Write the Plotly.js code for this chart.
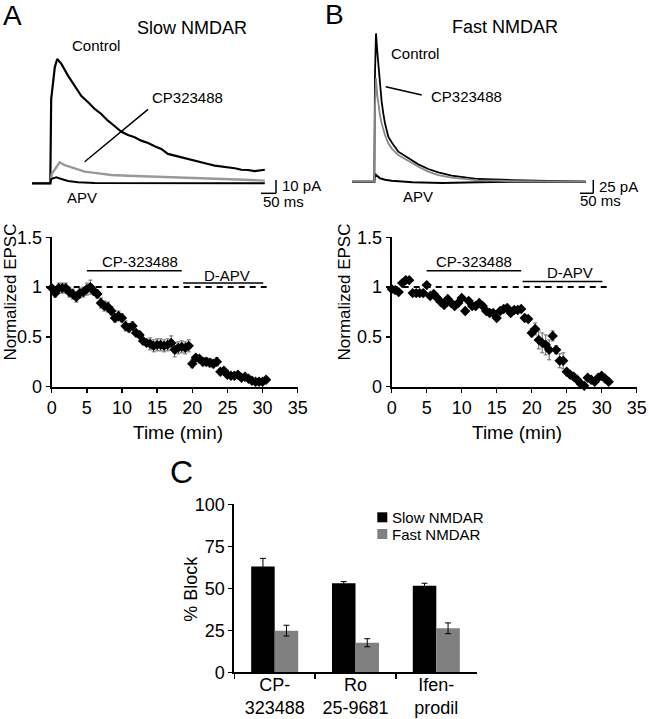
<!DOCTYPE html>
<html>
<head>
<meta charset="utf-8">
<script src="https://cdn.plot.ly/plotly-3.0.1.min.js"></script>
<style>html,body{margin:0;padding:0;background:#fff;}#chart{width:649px;height:719px;}</style>
</head>
<body>
<div id="chart"></div>
<script>
// ---------- Panel A traces (Slow NMDAR), time in ms, current in pA ----------
const ctrlA_t  = [0,61,64,70,76,84,98,120,142,164,187,209,231,253,276,298,320,342,364,387,409,431,453,476,498,520,542,564,587,609,631,653,676,698,720,742,764,776];
const ctrlA_pA = [0,0,63.2,77.0,87.0,93.3,89.6,80.8,73.2,65.7,60.8,55.8,52.0,47.0,42.8,38.7,36.2,34.5,32.0,30.3,27.8,25.8,22.1,20.7,19.5,18.2,17.0,15.8,14.5,13.3,12.7,12.0,11.3,10.2,10.0,9.2,9.8,10.2];
const cpA_t    = [0,61,66,92,109,131,153,176,209,264,320,376,431,487,542,598,653,709,776];
const cpA_pA   = [0,0,7.0,15.8,13.7,12.0,10.2,8.8,7.8,6.3,5.7,5.3,4.7,4.5,4.3,3.7,3.3,2.7,2.0];
const apvA_t   = [0,61,64,81,98,120,153,209,776];
const apvA_pA  = [0,0,3.3,4.5,3.3,1.8,0.8,0.2,0];

// ---------- Panel B traces (Fast NMDAR) ----------
const ctrlB_t  = [0,82.5,85,88.8,93.7,97.5,103.7,110,116.2,122.5,135,147.5,172.5,197.5,222.5,247.5,285,322.5,372.5,422.5,472.5,597.5,722.5,875];
const ctrlB_pA = [0,0,200,278,243.8,218.8,181.3,150,128.1,109.4,84.4,73.8,56.3,48.1,40.6,32.5,23.8,17.5,11.3,7.5,5,3.1,1.9,0];
const cpB_t    = [0,82.5,85,88.8,93.7,97.5,103.7,110,116.2,122.5,135,147.5,172.5,197.5,222.5,247.5,285,322.5,372.5,422.5,472.5,597.5,875];
const cpB_pA   = [0,0,137.5,193.8,162.5,146.9,125,109.4,96.9,87.5,71.9,62.5,50,42.5,34.4,28.1,18.8,12.5,7.5,4.4,2.5,1.2,0];
const apvB_t   = [0,82.5,85,91.2,103.7,122.5,147.5,225,337.5,472.5,597.5,875];
const apvB_pA  = [0,0,14.4,11.3,6.3,3.7,1.9,-1.2,-2.5,-1.2,0,0];

// ---------- Time courses ----------
const timeA = [0,0.5,1,1.5,2,2.5,3,3.5,4,4.5,5,5.5,6,6.5,7,7.5,8,8.5,9,9.5,10,10.5,11,11.5,12,12.5,13,13.5,14,14.5,15,15.5,16,16.5,17,17.5,18,18.5,19,19.5,20,20.5,21,21.5,22,22.5,23,23.5,24,24.5,25,25.5,26,26.5,27,27.5,28,28.5,29,29.5,30,30.5];
const normA = [0.99,0.94,0.99,0.99,0.99,0.95,0.93,0.90,0.94,0.95,0.98,1.00,0.96,0.93,0.84,0.81,0.80,0.76,0.69,0.71,0.69,0.61,0.59,0.61,0.54,0.52,0.46,0.44,0.43,0.41,0.42,0.42,0.41,0.42,0.44,0.37,0.39,0.40,0.39,0.41,0.23,0.29,0.28,0.25,0.25,0.24,0.23,0.25,0.15,0.16,0.12,0.11,0.11,0.12,0.09,0.10,0.08,0.06,0.05,0.05,0.05,0.07];
const errA  = [0.03,0.04,0.05,0.05,0.05,0.05,0.05,0.05,0.05,0.05,0.06,0.07,0.04,0.04,0.05,0.05,0.05,0.04,0.04,0.05,0.04,0.05,0.04,0.04,0.03,0.03,0.03,0.03,0.06,0.06,0.06,0.06,0.06,0.06,0.07,0.07,0.06,0.06,0.06,0.06,0.04,0.03,0.03,0.04,0.04,0.04,0.04,0.04,0.03,0.03,0.02,0.02,0.02,0.02,0.02,0.02,0.02,0.02,0.02,0.02,0.02,0.02];

const timeB = [0,0.5,1,1.5,2,2.5,3,3.5,4,4.5,5,5.5,6,6.5,7,7.5,8,8.5,9,9.5,10,10.5,11,11.5,12,12.5,13,13.5,14,14.5,15,15.5,16,16.5,17,17.5,18,18.5,19,19.5,20,20.5,21,21.5,22,22.5,23,23.5,24,24.5,25,25.5,26,26.5,27,27.5,28,28.5,29,29.5,30,30.5,31];
const normB = [0.98,0.97,0.95,1.04,1.07,1.07,0.94,0.94,0.94,0.94,1.02,0.91,0.93,0.89,0.85,0.82,0.88,0.84,0.81,0.84,0.89,0.76,0.86,0.81,0.81,0.84,0.81,0.76,0.74,0.74,0.69,0.76,0.78,0.79,0.74,0.77,0.77,0.78,0.69,0.68,0.54,0.58,0.47,0.44,0.42,0.37,0.51,0.37,0.26,0.26,0.15,0.12,0.10,0.07,0.03,0.01,0.09,0.07,0.05,0.09,0.11,0.08,0.05];
const errB  = [0.02,0.03,0.02,0.02,0.02,0.02,0.02,0.02,0.02,0.02,0.02,0.02,0.02,0.02,0.02,0.02,0.02,0.02,0.02,0.02,0.02,0.03,0.02,0.03,0.03,0.02,0.02,0.02,0.03,0.02,0.02,0.02,0.02,0.03,0.03,0.02,0.02,0.02,0.02,0.02,0.04,0.06,0.09,0.10,0.10,0.10,0.05,0.04,0.07,0.08,0.02,0.02,0.02,0.02,0.02,0.02,0.02,0.02,0.02,0.02,0.02,0.02,0.02];

// drug application periods (min)
const drugNames = ['CP-323488','D-APV'];
const drugStartA = [5, 18.7], drugEndA = [18.5, 30.1];
const drugStartB = [5, 18.7], drugEndB = [18.5, 30.1];

// ---------- Panel C ----------
const drugs    = ['CP-<br>323488','Ro<br>25-9681','Ifen-<br>prodil'];
const slowBlock = [63, 53, 51.5];
const slowErr   = [4.8, 1.0, 1.5];
const fastBlock = [24.8, 17.6, 26.2];
const fastErr   = [3.2, 2.4, 3.2];

const FONT = 'Liberation Sans, Arial, Helvetica, sans-serif';
const W = 649, H = 719;
const px = v => v / W;
const py = v => 1 - v / H;

const traces = [
  {x: ctrlA_t, y: ctrlA_pA, xaxis:'x4', yaxis:'y4', mode:'lines', line:{color:'#000', width:2.2}, hoverinfo:'skip', showlegend:false},
  {x: cpA_t, y: cpA_pA, xaxis:'x4', yaxis:'y4', mode:'lines', line:{color:'#999', width:2.4}, hoverinfo:'skip', showlegend:false},
  {x: apvA_t, y: apvA_pA, xaxis:'x4', yaxis:'y4', mode:'lines', line:{color:'#000', width:2}, hoverinfo:'skip', showlegend:false},
  {x: ctrlB_t, y: ctrlB_pA, xaxis:'x5', yaxis:'y5', mode:'lines', line:{color:'#000', width:1.8}, hoverinfo:'skip', showlegend:false},
  {x: apvB_t, y: apvB_pA, xaxis:'x5', yaxis:'y5', mode:'lines', line:{color:'#000', width:2}, hoverinfo:'skip', showlegend:false},
  {x: cpB_t, y: cpB_pA, xaxis:'x5', yaxis:'y5', mode:'lines', line:{color:'#888', width:1.8}, hoverinfo:'skip', showlegend:false},
  {x: timeA, y: normA, xaxis:'x', yaxis:'y', mode:'markers', cliponaxis:false,
   marker:{symbol:'diamond', size:8, color:'#000'},
   error_y:{type:'data', array:errA, visible:true, color:'#666', thickness:1, width:2}, showlegend:false},
  {x: timeB, y: normB, xaxis:'x2', yaxis:'y2', mode:'markers', cliponaxis:false,
   marker:{symbol:'diamond', size:8, color:'#000'},
   error_y:{type:'data', array:errB, visible:true, color:'#666', thickness:1, width:2}, showlegend:false},
  {type:'bar', x: drugs, y: slowBlock, xaxis:'x3', yaxis:'y3', name:'Slow NMDAR', marker:{color:'#000'},
   error_y:{type:'data', array:slowErr, visible:true, color:'#000', thickness:1, width:3}, showlegend:false},
  {type:'bar', x: drugs, y: fastBlock, xaxis:'x3', yaxis:'y3', name:'Fast NMDAR', marker:{color:'#808080'},
   error_y:{type:'data', array:fastErr, visible:true, color:'#000', thickness:1, width:3}, showlegend:false}
];

const axLine = {showline:true, linecolor:'#000', linewidth:2, ticks:'outside', ticklen:4, tickwidth:1.5, tickcolor:'#000',
  showgrid:false, zeroline:false, tickfont:{family:FONT, size:18, color:'#000'}, fixedrange:true};

const layout = {
  width: W, height: H, margin:{l:0, r:0, t:0, b:0}, paper_bgcolor:'#fff', plot_bgcolor:'rgba(0,0,0,0)',
  font:{family:FONT, color:'#000'}, showlegend:false, barmode:'group', bargap:0.418, bargroupgap:0,
  xaxis: Object.assign({}, axLine, {domain:[px(51.7), px(297.7)], range:[0,35], tickvals:[0,5,10,15,20,25,30,35], anchor:'y'}),
  yaxis: Object.assign({}, axLine, {domain:[py(386.7), py(237.3)], range:[0,1.5], tickvals:[0,0.5,1,1.5], ticktext:['0','0.5','1','1.5'], anchor:'x'}),
  xaxis2: Object.assign({}, axLine, {domain:[px(391.7), px(636.7)], range:[0,35], tickvals:[0,5,10,15,20,25,30,35], anchor:'y2'}),
  yaxis2: Object.assign({}, axLine, {domain:[py(386.7), py(237.3)], range:[0,1.5], tickvals:[0,0.5,1,1.5], ticktext:['0','0.5','1','1.5'], anchor:'x2'}),
  xaxis3: Object.assign({}, axLine, {domain:[px(234.3), px(476.7)], type:'category', tickson:'boundaries', anchor:'y3', ticklen:5, ticklabelstandoff:-5}),
  yaxis3: Object.assign({}, axLine, {domain:[py(672.3), py(504.3)], range:[0,100], tickvals:[0,25,50,75,100], anchor:'x3'}),
  xaxis4: {domain:[px(28), px(300)], range:[-13.3, 893.3], visible:false, anchor:'y4', fixedrange:true},
  yaxis4: {domain:[py(210), py(40)], range:[-20, 107.5], visible:false, anchor:'x4', fixedrange:true},
  xaxis5: {domain:[px(345), px(612)], range:[-27.4, 973.9], visible:false, anchor:'y5', fixedrange:true},
  yaxis5: {domain:[py(210), py(25)], range:[-53.1, 293.8], visible:false, anchor:'x5', fixedrange:true},
  shapes: [],
  annotations: []
};

const S = layout.shapes, A = layout.annotations;
function ann(o){ A.push(Object.assign({showarrow:false, font:{family:FONT, size:15, color:'#000'}, xanchor:'center', yanchor:'middle'}, o)); }

ann({xref:'paper', yref:'paper', x:px(12), y:py(16), text:'A', font:{family:FONT, size:28, color:'#000'}});
ann({xref:'paper', yref:'paper', x:px(334), y:py(15), text:'B', font:{family:FONT, size:28, color:'#000'}});
ann({xref:'paper', yref:'paper', x:px(181), y:py(472), text:'C', font:{family:FONT, size:32, color:'#000'}});
ann({xref:'paper', yref:'paper', x:px(191.7), y:py(28.3), text:'Slow NMDAR', font:{family:FONT, size:18, color:'#000'}});
ann({xref:'paper', yref:'paper', x:px(505), y:py(26.7), text:'Fast NMDAR', font:{family:FONT, size:18, color:'#000'}});

// Trace labels A
ann({xref:'x4', yref:'y4', x:213, y:103.7, text:'Control'});
ann({xref:'x4', yref:'y4', x:516.7, y:64.7, text:'CP323488'});
ann({xref:'x4', yref:'y4', x:166.7, y:-10.3, text:'APV'});
ann({xref:'x4', yref:'y4', x:826.7, y:-2, text:'10 pA', xanchor:'left'});
ann({xref:'x4', yref:'y4', x:763.3, y:-13.3, text:'50 ms', xanchor:'left'});
S.push({type:'line', xref:'x4', yref:'y4', x0:175.7, y0:16.2, x1:386.7, y1:55.5, line:{color:'#000', width:1.5}});
S.push({type:'line', xref:'x4', yref:'y4', x0:813.3, y0:-7.5, x1:813.3, y1:2.5, line:{color:'#000', width:1.5}});
S.push({type:'line', xref:'x4', yref:'y4', x0:763.3, y0:-7.5, x1:813.3, y1:-7.5, line:{color:'#000', width:1.5}});

// Trace labels B
ann({xref:'x5', yref:'y5', x:233.3, y:240.8, text:'Control'});
ann({xref:'x5', yref:'y5', x:429, y:159.4, text:'CP323488'});
ann({xref:'x5', yref:'y5', x:246.4, y:-28.7, text:'APV'});
ann({xref:'x5', yref:'y5', x:917.6, y:-8.1, text:'25 pA', xanchor:'left'});
ann({xref:'x5', yref:'y5', x:846.4, y:-36.2, text:'50 ms', xanchor:'left'});
S.push({type:'line', xref:'x5', yref:'y5', x0:125.3, y0:178.1, x1:260.3, y1:162.6, line:{color:'#000', width:1.5}});
S.push({type:'line', xref:'x5', yref:'y5', x0:903.75, y0:-21.75, x1:903.75, y1:3.25, line:{color:'#000', width:1.5}});
S.push({type:'line', xref:'x5', yref:'y5', x0:853.75, y0:-21.75, x1:903.75, y1:-21.75, line:{color:'#000', width:1.5}});

[['x','y',drugStartA,drugEndA,[1.165,1.04],[12.6,24.9],[1.255,1.12],31],
 ['x2','y2',drugStartB,drugEndB,[1.165,1.055],[11.7,25.5],[1.255,1.145],31.3]].forEach(p => {
  const [xr, yr, st, en, lvl, lx, ly, dashEnd] = p;
  S.push({type:'line', xref:xr, yref:yr, x0:0, x1:dashEnd, y0:1, y1:1, line:{color:'#000', width:2, dash:'6px,5px'}});
  for (let i = 0; i < 2; i++) {
    S.push({type:'line', xref:xr, yref:yr, x0:st[i], x1:en[i], y0:lvl[i], y1:lvl[i], line:{color:'#000', width:1.5}});
    ann({xref:xr, yref:yr, x:lx[i], y:ly[i], text:drugNames[i]});
  }
});
ann({xref:'paper', yref:'paper', x:px(9.5), y:py(292), text:'Normalized EPSC', textangle:-90, font:{family:FONT, size:17, color:'#000'}});
ann({xref:'paper', yref:'paper', x:px(343.5), y:py(292), text:'Normalized EPSC', textangle:-90, font:{family:FONT, size:17, color:'#000'}});
ann({xref:'paper', yref:'paper', x:px(177.5), y:py(432), text:'Time (min)', font:{family:FONT, size:19, color:'#000'}});
ann({xref:'paper', yref:'paper', x:px(517), y:py(432), text:'Time (min)', font:{family:FONT, size:19, color:'#000'}});
ann({xref:'paper', yref:'paper', x:px(190.7), y:py(589), text:'% Block', textangle:-90, font:{family:FONT, size:18, color:'#000'}});

S.push({type:'rect', xref:'paper', yref:'paper', x0:px(377.3), x1:px(387.3), y0:py(522.3), y1:py(512.3), fillcolor:'#000', line:{width:0}});
S.push({type:'rect', xref:'paper', yref:'paper', x0:px(377.3), x1:px(387.3), y0:py(539), y1:py(529), fillcolor:'#808080', line:{width:0}});
ann({xref:'paper', yref:'paper', x:px(389.5), y:py(517.3), text:'Slow NMDAR', xanchor:'left'});
ann({xref:'paper', yref:'paper', x:px(389.5), y:py(534), text:'Fast NMDAR', xanchor:'left'});

Plotly.newPlot('chart', traces, layout, {staticPlot:true, displayModeBar:false});
</script>
</body>
</html>
